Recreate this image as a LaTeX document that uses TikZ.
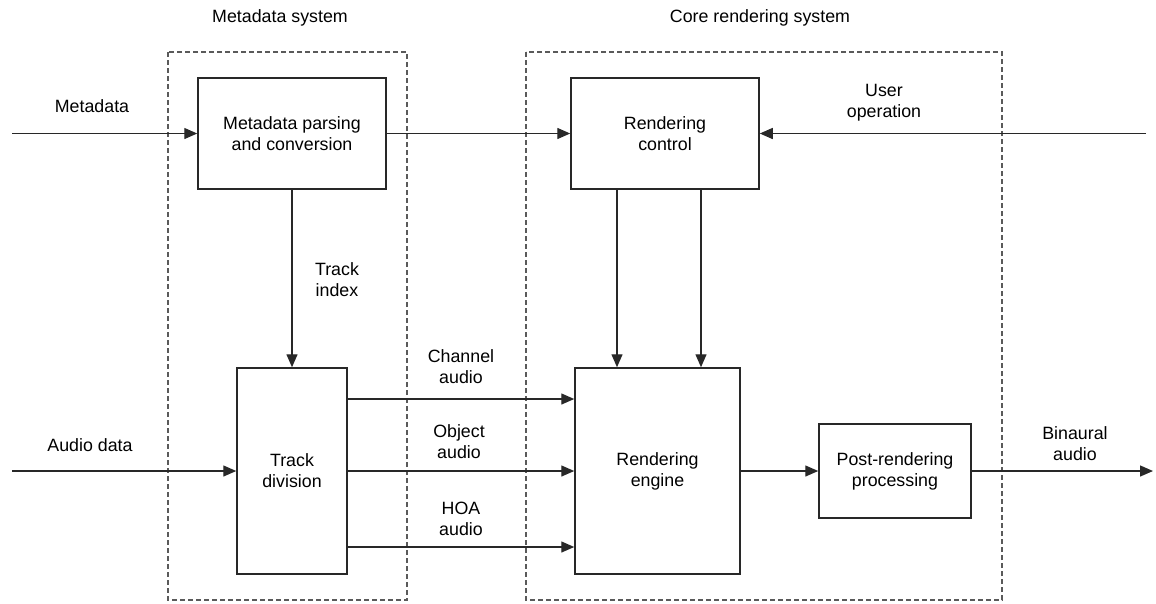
\documentclass[tikz,border=0pt]{standalone}
\usepackage{fontspec}
\setmainfont{Liberation Sans}
\usetikzlibrary{arrows.meta,calc}
\definecolor{linegray}{RGB}{40,40,40}
\definecolor{dashgray}{RGB}{90,90,90}
\tikzset{
  block/.style={draw=linegray, line width=1.5pt, fill=white, align=center, inner sep=0pt,
    font=\fontsize{17.8}{21}\selectfont},
  sysbox/.style={draw=dashgray, line width=1.2pt, dash pattern=on 5pt off 3pt},
  lbl/.style={align=center, inner sep=0pt, text=black, font=\fontsize{17.8}{21}\selectfont},
  arr/.style={draw=linegray, line width=1.4pt, -{Triangle[length=13pt,width=11pt]}},
}
\begin{document}
\begin{tikzpicture}[x=1pt, y=-1pt]
  \useasboundingbox (0,0) rectangle (1156,603);
  \draw [sysbox] (168,52) rectangle (407,600);
  \draw [sysbox] (526,52) rectangle (1002,600);
  \node [lbl] (metasys) at (280,18) {Metadata system};
  \node [lbl] (coresys) at (760,18) {Core rendering system};

  \node [block, minimum width=188pt, minimum height=111pt] (meta) at (292,133.5) {Metadata parsing\\and conversion};
  \node [block, minimum width=188pt, minimum height=111pt] (ctrl) at (665,133.5) {Rendering\\control};
  \node [block, minimum width=110pt, minimum height=206pt] (track) at (292,471) {Track\\division};
  \node [block, minimum width=165pt, minimum height=206pt] (engine) at (657.5,471) {Rendering\\engine};
  \node [block, minimum width=152pt, minimum height=94pt] (post) at (895,471) {Post-rendering\\processing};

  \coordinate (mdin) at (12,133.5);
  \coordinate (audin) at (12,471);
  \coordinate (userin) at (1146,133.5);
  \coordinate (binout) at (1153,471);

  \draw [arr] (mdin) -- (meta.west);
  \draw [arr] (meta.east) -- (ctrl.west);
  \draw [arr] (userin) -- (ctrl.east);
  \draw [arr] (meta.south) -- (track.north);
  \draw [arr] ([xshift=-48]ctrl.south) -- ([xshift=-48]ctrl.south |- engine.north);
  \draw [arr] ([xshift=36]ctrl.south) -- ([xshift=36]ctrl.south |- engine.north);
  \draw [arr] (audin) -- (track.west);
  \draw [arr] ([yshift=72]track.east) -- ([yshift=72]track.east -| engine.west);
  \draw [arr] (track.east) -- (engine.west);
  \draw [arr] ([yshift=-76]track.east) -- ([yshift=-76]track.east -| engine.west);
  \draw [arr] (engine.east) -- (post.west);
  \draw [arr] (post.east) -- (binout);

  \node [lbl] (mdlbl) at (92,106) {Metadata};
  \node [lbl] (audlbl) at (90,445) {Audio data};
  \node [lbl] (userlbl) at (884,102.5) {User\\operation};
  \node [lbl] (idxlbl) at (337,279.5) {Track\\index};
  \node [lbl] (chlbl) at (461,367) {Channel\\audio};
  \node [lbl] (objlbl) at (459,441.5) {Object\\audio};
  \node [lbl] (hoalbl) at (461,519) {HOA\\audio};
  \node [lbl] (binlbl) at (1075,443.5) {Binaural\\audio};
\end{tikzpicture}
\end{document}
